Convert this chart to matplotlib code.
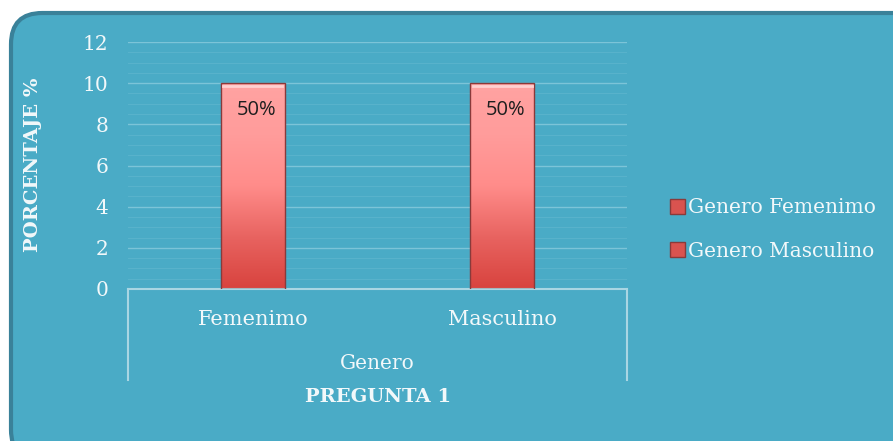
import numpy as np
import matplotlib.pyplot as plt
from matplotlib.patches import FancyBboxPatch, Patch
from matplotlib.colors import LinearSegmentedColormap
from matplotlib.lines import Line2D

# data
categories = ['Femenimo', 'Masculino']
series_names = ['Genero Femenimo', 'Genero Masculino']
values = [10, 10]
value_labels = ['50%', '50%']
group_label = 'Genero'
title = 'PREGUNTA 1'
y_label = 'PORCENTAJE %'

bg = '#4AABC6'
txt = '#F2F8FA'
serif = 'DejaVu Serif'

fig = plt.figure(figsize=(8.93, 4.41), dpi=100)
fig.patch.set_facecolor('white')

# rounded chart frame
W, H = 893, 441
frame = FancyBboxPatch((11 / W, -20 / H), 920 / W, 448 / H,
                       boxstyle='round,pad=0,rounding_size=0.035',
                       transform=fig.transFigure, facecolor=bg,
                       edgecolor='#3A8199', linewidth=3, zorder=-1,
                       mutation_aspect=W / H)
fig.patches.append(frame)

ax = fig.add_axes([128 / W, 1 - 289 / H, (627 - 128) / W, (289 - 42) / H])
ax.set_facecolor('none')
ax.set_zorder(2)

x = np.arange(len(categories))
bars = ax.bar(x, values, width=0.255, color='none', edgecolor='#8A3A3A',
              linewidth=1.0, zorder=3)

# vertical gradient inside each bar
cmap = LinearSegmentedColormap.from_list(
    'bar', ['#D8433E', '#E86360', '#FF8C8A', '#FF9C9B', '#FFA3A2'])
grad = np.linspace(0, 1, 256).reshape(-1, 1)
for b in bars:
    x0, y0 = b.get_x(), b.get_y()
    ax.imshow(grad, cmap=cmap, origin='lower', aspect='auto',
              extent=(x0, x0 + b.get_width(), y0, y0 + b.get_height()),
              zorder=2)
    # top bevel highlight
    ax.plot([x0 + 0.01, x0 + b.get_width() - 0.01],
            [b.get_height() - 0.12] * 2, color='#FFD0D0', lw=2, zorder=3)

for b, lab in zip(bars, value_labels):
    ax.annotate(lab, (b.get_x() + b.get_width() / 2 + 0.015, b.get_height()),
                xytext=(0, -19), textcoords='offset points', ha='center',
                va='center', fontsize=14.5, color='#1E1E1E', family='Open Sans',
                zorder=5)

ax.set_xlim(-0.5, 1.5)
ax.set_ylim(0, 12)
ax.set_yticks(range(0, 13, 2))
ax.set_yticks(np.arange(0, 12.01, 0.5), minor=True)
ax.grid(axis='y', which='major', color='#7CC4D8', lw=1, zorder=1)
ax.grid(axis='y', which='minor', color='#58B2CB', lw=0.8, zorder=1)
ax.set_axisbelow(True)
for s in ['top', 'right', 'left']:
    ax.spines[s].set_visible(False)
ax.spines['bottom'].set_color('#A9D6E3')
ax.spines['bottom'].set_linewidth(1.5)
ax.tick_params(axis='y', length=0, pad=14, labelsize=14.5, labelcolor=txt)
ax.tick_params(axis='x', length=0, labelbottom=False)
ax.tick_params(which='minor', length=0)
for t in ax.get_yticklabels():
    t.set_family(serif)

# multi-level category axis
for xi, c in zip(x, categories):
    ax.text(xi, -31 / 20.6, c, ha='center', va='center', fontsize=15,
            color=txt, family=serif)
ax.text(0.5, -75 / 20.6, group_label, ha='center', va='center', fontsize=14.5,
        color=txt, family=serif)
for xv in [-0.5, 1.5]:
    ax.add_line(Line2D([xv, xv], [0, -91 / 20.6], color='#A9D6E3', lw=1.5,
                       clip_on=False))

fig.text(378 / W, 1 - 397 / H, title, ha='center', va='center', fontsize=14,
         fontweight='bold', color=txt, family=serif)
fig.text(33 / W, 1 - 165 / H, y_label, ha='center', va='center', fontsize=14,
         fontweight='bold', color=txt, family=serif, rotation=90)

handles = [Patch(facecolor='#D9534F', edgecolor='#8A3A3A', label=n)
           for n in series_names]
leg = fig.legend(handles=handles, loc='center left',
                 bbox_to_anchor=(652 / W, 1 - 229.5 / H), frameon=False,
                 handlelength=0.72, handleheight=0.72, handletextpad=0.15,
                 labelspacing=1.2,
                 prop={'family': serif, 'size': 14.5})
for t in leg.get_texts():
    t.set_color(txt)

fig.savefig('out.png', dpi=100, facecolor='white')
